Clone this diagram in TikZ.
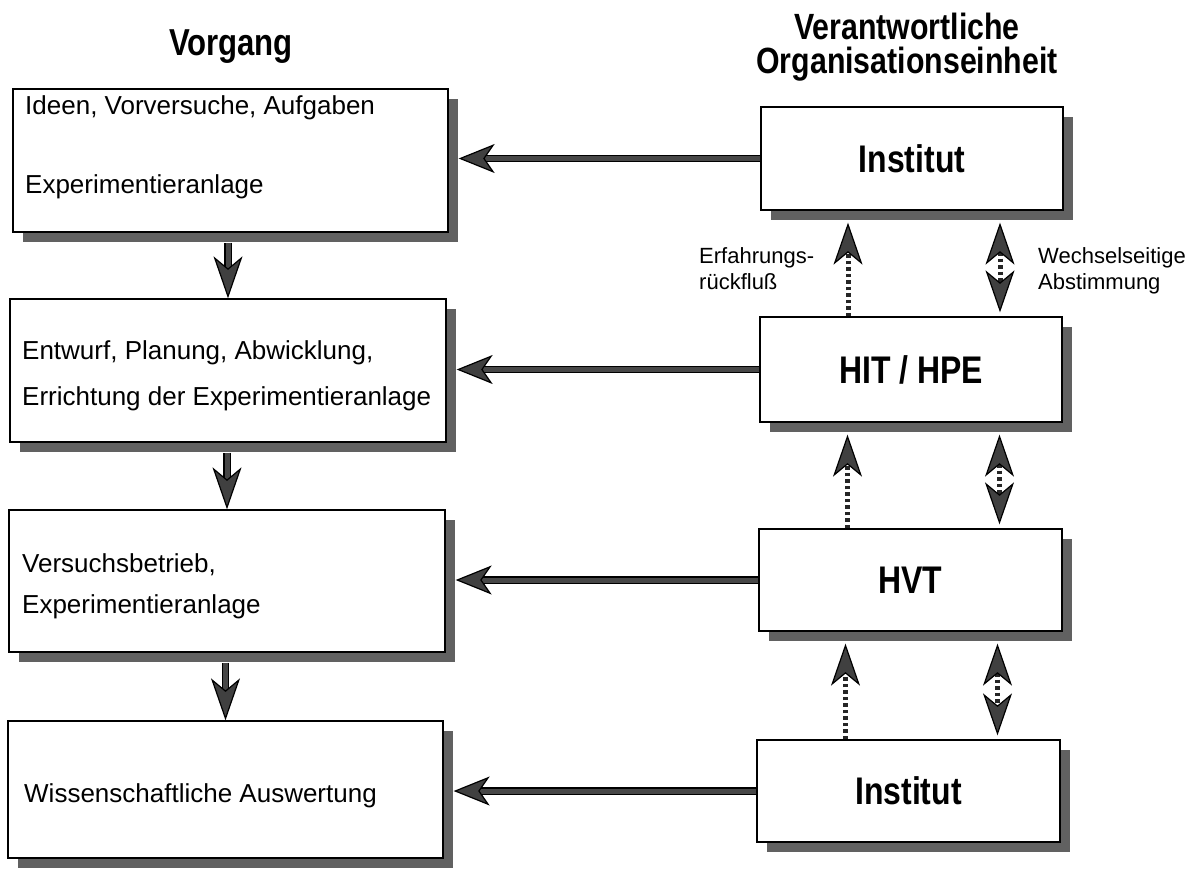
\documentclass[tikz,border=0pt]{standalone}
\usepackage{fontspec}
\setmainfont{Liberation Sans}
\newfontfamily\headfont[FakeStretch=0.83]{Liberation Sans}
\usetikzlibrary{arrows.meta,shadows,calc}

\tikzset{
  box/.style={draw=black, line width=1.3pt, fill=white, inner sep=0pt,
    drop shadow={shadow xshift=10pt, shadow yshift=-10pt, fill=black!62, opacity=1}},
  bodytext/.style={inner sep=0pt, anchor=base west, font=\fontsize{26}{30}\selectfont},
  headtext/.style={inner sep=0pt, anchor=base, font=\headfont\bfseries\fontsize{37.5}{31}\selectfont},
  titletext/.style={inner sep=0pt, anchor=north, align=center, font=\headfont\bfseries\fontsize{36.5}{33.5}\selectfont},
  unittext/.style={inner sep=0pt, font=\headfont\bfseries\fontsize{38.5}{31}\selectfont},
  notetext/.style={inner sep=0pt, anchor=base west, font=\fontsize{22}{26}\selectfont},
  longtip/.tip={Stealth[length=42pt, width=29pt, inset=12pt, line width=1.2pt, color=black, fill=black!75]},
  shorttip/.tip={Stealth[length=36pt, width=29pt, inset=10pt, line width=1.2pt, color=black, fill=black!75]},
  shaftedge/.style={draw=black, line width=7.5pt, shorten >=22pt},
  flow/.style={draw=black!72, line width=5pt, -shorttip},
  stepflow/.style={draw=black!72, line width=5pt, -longtip},
  dotshaft/.style={draw=black!85, line width=5pt, dash pattern=on 3.5pt off 3pt},
  feedback/.style={dotshaft, -longtip},
  mutual/.style={dotshaft, longtip-longtip},
}

\begin{document}
\begin{tikzpicture}[x=1pt, y=-1pt]
\useasboundingbox (0,0) rectangle (1192,871);

% column titles
\node[headtext] (tv) at (231,55) {Vorgang};
\node[titletext] (to) at (907,13) {Verantwortliche\\Organisationseinheit};

% process steps (left column)
\node[box, minimum width=435pt, minimum height=143pt] (L1) at (230.5,160.5) {};
\node[box, minimum width=436pt, minimum height=143pt] (L2) at (228,370.5) {};
\node[box, minimum width=436pt, minimum height=142pt] (L3) at (227,581) {};
\node[box, minimum width=435pt, minimum height=137pt] (L4) at (225.5,789.5) {};

\node[bodytext] (l1a) at (25,114) {Ideen, Vorversuche, Aufgaben};
\node[bodytext] (l1b) at (25,193) {Experimentieranlage};
\node[bodytext] (l2a) at (22,359) {Entwurf, Planung, Abwicklung,};
\node[bodytext] (l2b) at (22,405) {Errichtung der Experimentieranlage};
\node[bodytext] (l3a) at (22,572) {Versuchsbetrieb,};
\node[bodytext] (l3b) at (22,613) {Experimentieranlage};
\node[bodytext] (l4a) at (24,802) {Wissenschaftliche Auswertung};

% responsible units (right column)
\node[box, minimum width=302pt, minimum height=103pt] (R1) at (912,158.5) {};
\node[box, minimum width=302pt, minimum height=105pt] (R2) at (911,369.5) {};
\node[box, minimum width=303pt, minimum height=102pt] (R3) at (910.5,580) {};
\node[box, minimum width=303pt, minimum height=102pt] (R4) at (908.5,791) {};

\node[unittext] (r1t) at (R1) {Institut};
\node[unittext] (r2t) at (R2) {HIT / HPE};
\node[unittext] (r3t) at (R3) {HVT};
\node[unittext] (r4t) at (R4) {Institut};

% unit -> step arrows
\foreach \r/\l in {R1/L1, R2/L2, R3/L3, R4/L4}{
  \draw[shaftedge] (\r.west) -- ($(\r.west -| \l.east)+(10,0)$);
  \draw[flow] (\r.west) -- ($(\r.west -| \l.east)+(10,0)$);
}

% step sequence
\foreach \a/\b in {L1/L2, L2/L3, L3/L4}{
  \draw[shaftedge] ($(\b.north |- \a.south)+(0,10)$) -- (\b.north);
  \draw[stepflow] ($(\b.north |- \a.south)+(0,10)$) -- (\b.north);
}

% feedback and mutual coordination between units
\foreach \u/\d in {R1/R2, R2/R3, R3/R4}{
  \draw[feedback] ($(\d.north)+(-63,0)$) -- ($(\d.north |- \u.south)+(-63,12)$);
  \draw[mutual] ($(\d.north |- \u.south)+(89,12)$) -- ($(\d.north)+(89,-4)$);
}

\node[notetext] (n1) at (699,263) {Erfahrungs-};
\node[notetext] (n2) at (699,289) {rückfluß};
\node[notetext] (n3) at (1038,263) {Wechselseitige};
\node[notetext] (n4) at (1038,289) {Abstimmung};
\end{tikzpicture}
\end{document}
